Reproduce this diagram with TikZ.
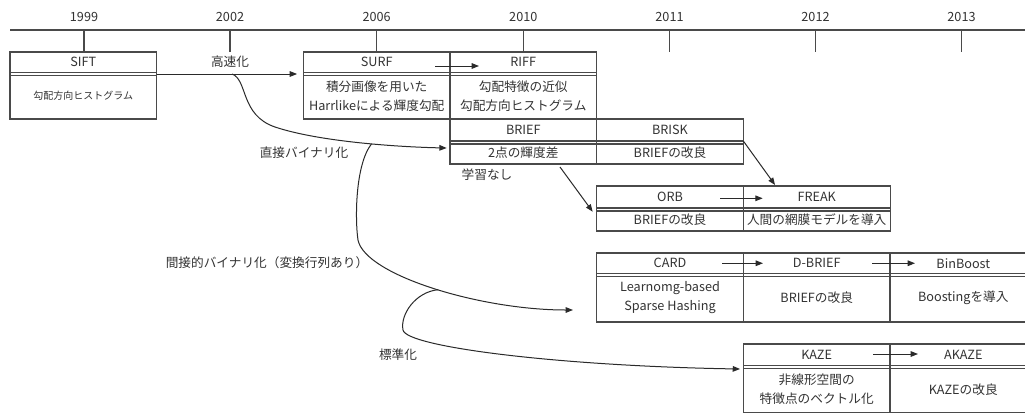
\documentclass[tikz,border=0pt]{standalone}
\usepackage{fontspec}
\setmainfont{Noto Sans CJK JP}
\usetikzlibrary{arrows.meta}
\definecolor{txt}{HTML}{333333}
\definecolor{ln}{HTML}{4A4A4A}
\definecolor{arc}{HTML}{2A2A2A}
\begin{document}
\begin{tikzpicture}[x=0.75pt,y=-0.75pt,
  every node/.style={text=txt,font=\fontsize{9.5pt}{14.25pt}\selectfont},
  cell/.style={draw=ln,line width=0.8pt,minimum width=110pt,inner sep=0pt,outer sep=0pt,align=center},
  hrow1/.style={cell,minimum height=15.375pt},
  brow1/.style={cell,minimum height=34.875pt},
  hrow2/.style={cell,minimum height=16.5pt},
  brow2/.style={cell,minimum height=17.25pt},
  hrow4/.style={cell,minimum height=15.375pt},
  brow4/.style={cell,minimum height=36.375pt},
  hrow5/.style={cell,minimum height=16.125pt},
  brow5/.style={cell,minimum height=35.625pt},
  arr/.style={draw=arc,line width=0.75pt,-{Triangle[length=5.5pt,width=4.2pt]}},
  axis/.style={draw=ln,line width=0.8pt}]
\clip (0,0) rectangle (1025,412);
\fill[white] (0,0) rectangle (1025,412);

% timeline
\draw[axis] (10,30) -- (1025,30);
\foreach \x/\yr in {84/1999,230/2002,376.7/2006,523.3/2010,669.5/2011,815.5/2012,961.5/2013}{
  \node (y\yr) at (\x,17) {\yr};
  \draw[axis] (\x,30) -- (\x,52);
}

% row 1
\node[hrow1] (sifth) at (83.3,62.25) {SIFT};
\node[brow1,font=\fontsize{7.5pt}{10pt}\selectfont] (siftb) at (83.3,95.75) {勾配方向ヒストグラム};
\node[hrow1] (surfh) at (376.7,62.25) {SURF};
\node[brow1] (surfb) at (376.7,95.75) {積分画像を用いた\\Harrlikeによる輝度勾配};
\node[hrow1] (riffh) at (523.3,62.25) {RIFF};
\node[brow1] (riffb) at (523.3,95.75) {勾配特徴の近似\\勾配方向ヒストグラム};

% row 2
\node[hrow2] (briefh) at (523.3,130) {BRIEF};
\node[brow2] (briefb) at (523.3,152.5) {2点の輝度差};
\node[hrow2] (briskh) at (670,130) {BRISK};
\node[brow2] (briskb) at (670,152.5) {BRIEFの改良};

% row 3
\node[hrow2] (orbh) at (670,197) {ORB};
\node[brow2] (orbb) at (670,219.5) {BRIEFの改良};
\node[hrow2] (freakh) at (816.7,197) {FREAK};
\node[brow2] (freakb) at (816.7,219.5) {人間の網膜モデルを導入};

% row 4
\node[hrow4] (cardh) at (670,263.25) {CARD};
\node[brow4] (cardb) at (670,297.75) {Learnomg-based\\Sparse Hashing};
\node[hrow4] (dbriefh) at (816.7,263.25) {D-BRIEF};
\node[brow4] (dbriefb) at (816.7,297.75) {BRIEFの改良};
\node[hrow4] (binh) at (963.3,263.25) {BinBoost};
\node[brow4] (binb) at (963.3,297.75) {Boostingを導入};

% row 5
\node[hrow5] (kazeh) at (816.7,354.75) {KAZE};
\node[brow5] (kazeb) at (816.7,389.25) {非線形空間の\\特徴点のベクトル化};
\node[hrow5] (akazeh) at (963.3,354.75) {AKAZE};
\node[brow5] (akazeb) at (963.3,389.25) {KAZEの改良};

% double lines under headers
\foreach \h in {sifth,surfh,riffh,briefh,briskh,orbh,freakh,cardh,dbriefh,binh,kazeh,akazeh}{
  \draw[draw=ln,line width=0.8pt] ([shift={(0,3)}]\h.south west) -- ([shift={(0,3)}]\h.south east);
}

% labels
\node (l1) at (230,62) {高速化};
\node (l2) at (304,153) {直接バイナリ化};
\node (l3) at (487,175) {学習なし};
\node (l4) at (267,263) {間接的バイナリ化（変換行列あり）};
\node (l5) at (398,355) {標準化};

% connectors
\draw[arr] ([shift={(0,1.5)}]sifth.south east) -- coordinate[pos=0.537] (k1) ([shift={(-6.3,1.5)}]surfh.south west);
\draw[arr] (k1) .. controls (248,80) and (240,115) .. (275,127)
  .. controls (320,142) and (400,147) .. ([shift={(-3.3,-4.5)}]briefb.west) coordinate[pos=0.56] (k2);
\draw[arr] (k2) .. controls (355,165) and (355,220) .. (358,240)
  .. controls (365,275) and (480,310) .. ([shift={(-23.7,12.25)}]cardb.west) coordinate[pos=0.52] (k3);
\draw[arr] (k3) .. controls (415,292) and (400,315) .. (403,330)
  .. controls (406,347) and (560,366) .. ([shift={(-3.3,-20.25)}]kazeb.west);
\draw[arr] ([shift={(36.7,3)}]briefb.south) -- ([shift={(-4,3.7)}]orbh.south west);
\draw[arr] (briskh.south east) -- ([shift={(31.7,-1)}]freakh.north west);

% header arrows
\draw[arr] ([shift={(58.3,3.75)}]surfh.center) -- ([shift={(-44.3,3.75)}]riffh.center);
\draw[arr] ([shift={(50,1.3)}]orbh.center) -- ([shift={(-54,1.3)}]freakh.center);
\draw[arr] ([shift={(52,0)}]cardh.center) -- ([shift={(-53.7,0)}]dbriefh.center);
\draw[arr] ([shift={(55.3,0)}]dbriefh.center) -- ([shift={(-48.3,0)}]binh.center);
\draw[arr] ([shift={(56.3,-0.75)}]kazeh.center) -- ([shift={(-45.3,-0.75)}]akazeh.center);
\end{tikzpicture}
\end{document}
